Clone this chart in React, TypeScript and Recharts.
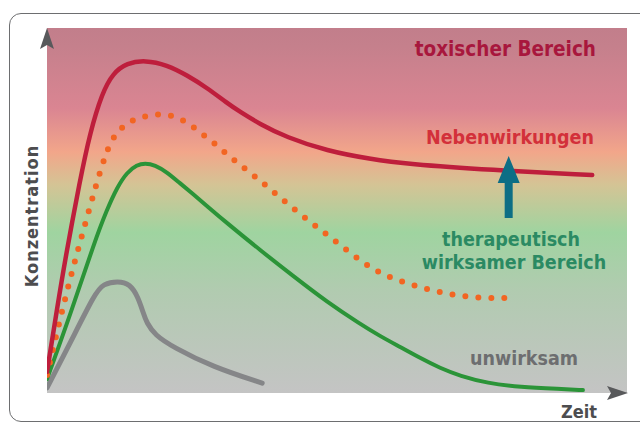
import { LineChart, Line, XAxis, YAxis, ReferenceArea, ReferenceDot } from "recharts";

// Zeit (0-100) und Konzentration (0-100)
const redT = [0, 1.7, 3.1, 5.7, 7.4, 9.5, 11.4, 13.8, 16.9, 20.7, 24.1, 27.6, 31, 33.3, 36.7, 41.2, 48.3, 55.7, 62.2, 76.4, 94];
const redC = [5.8, 22.7, 36.4, 58.4, 71.2, 82.2, 87.7, 90.4, 91.2, 89.9, 87.1, 83.6, 79.5, 77, 73.7, 70.1, 66.3, 64.1, 62.7, 61.1, 59.7];

const doseT = [0, 2.2, 4.5, 7.1, 9.7, 11.2, 12.6, 14.3, 16.4, 18.6, 20.9, 22.9, 24.8, 26.7, 28.6, 32.2, 36, 39.7, 43.4, 47.2, 51, 54.8, 58.3, 62.8, 67.4, 72.2, 76.9, 79.1];
const doseC = [4.9, 20, 34.5, 49.3, 63.8, 69.6, 72.3, 74.5, 75.6, 76.4, 76.2, 75.3, 73.4, 71, 68.8, 63.8, 59.2, 54.2, 49.3, 44.7, 40, 35.3, 32.1, 29.6, 27.7, 26.3, 26, 26];

const greenT = [0, 4, 8.3, 10.3, 12.1, 13.8, 15.5, 16.9, 18.6, 20.7, 22.9, 25.2, 27.6, 31, 36.7, 42.4, 48.3, 54, 57.4, 60.9, 64.3, 67.8, 71.2, 75.9, 81.6, 88.4, 92.4];
const greenC = [3.8, 21.4, 41.9, 50.1, 56.4, 60.5, 62.5, 63, 62.5, 60.5, 57.5, 54.5, 51.2, 46.6, 39.2, 32.1, 24.9, 18.9, 15.6, 12.6, 9.6, 6.8, 4.7, 2.7, 1.6, 1.1, 0.8];

const grayT = [0, 4, 8.3, 9.7, 12.2, 14.3, 15.7, 16.6, 17.2, 18.6, 21.7, 28.6, 37.1];
const grayC = [1.4, 13.7, 27.4, 29.9, 30.7, 29.9, 26.3, 21.9, 19.2, 15.9, 12.6, 7.1, 2.7];

const toRows = (ts: number[], cs: number[]) => ts.map((t, i) => ({ t, c: cs[i] }));

const font = "'DejaVu Sans Condensed', 'DejaVu Sans', sans-serif";
const axisGray = "#58595b";

const UpHead = (p: any) => (
  <path d={`M${p.cx},${p.cy} L${p.cx + 7},${p.cy + 21} L${p.cx},${p.cy + 17} L${p.cx - 7},${p.cy + 21} Z`} fill={axisGray} />
);
const RightHead = (p: any) => (
  <path d={`M${p.cx + 1},${p.cy} L${p.cx - 20},${p.cy - 7} L${p.cx - 16},${p.cy} L${p.cx - 20},${p.cy + 7} Z`} fill={axisGray} />
);
const TealArrow = (p: any) => (
  <path
    d={`M${p.cx},${p.cy} L${p.cx + 11},${p.cy + 27} L${p.cx + 4},${p.cy + 27} L${p.cx + 4},${p.cy + 62} L${p.cx - 4},${p.cy + 62} L${p.cx - 4},${p.cy + 27} L${p.cx - 11},${p.cy + 27} Z`}
    fill="#0d6e85"
  />
);

export default function App() {
  return (
    <div style={{ position: "absolute", left: 0, top: 0, width: 640, height: 424, overflow: "hidden", background: "#fff" }}>
      <div
        style={{
          position: "absolute",
          left: 9,
          top: 13,
          width: 660,
          height: 407,
          border: "1.5px solid #6d6e70",
          borderRadius: 12,
        }}
      />
      <div style={{ position: "absolute", left: 0, top: 0 }}>
        <LineChart width={640} height={424} margin={{ top: 28, right: 13, bottom: 31, left: 47 }}>
          <defs>
            <linearGradient id="bg" x1="0" y1="0" x2="0" y2="1">
              <stop offset="0" stopColor="#c27e8b" />
              <stop offset="0.05" stopColor="#c5808c" />
              <stop offset="0.22" stopColor="#da8592" />
              <stop offset="0.34" stopColor="#f2a68a" />
              <stop offset="0.43" stopColor="#d4c495" />
              <stop offset="0.56" stopColor="#9fd4a0" />
              <stop offset="0.72" stopColor="#b1cbb0" />
              <stop offset="1" stopColor="#c4c4c4" />
            </linearGradient>
          </defs>
          <ReferenceArea x1={0} x2={100} y1={0} y2={100} fill="url(#bg)" fillOpacity={1} stroke="none" />
          <XAxis
            type="number"
            dataKey="t"
            domain={[0, 100]}
            allowDataOverflow
            height={0}
            tick={false}
            tickLine={false}
            axisLine={{ stroke: axisGray, strokeWidth: 6 }}
          />
          <YAxis
            type="number"
            dataKey="c"
            domain={[0, 100]}
            allowDataOverflow
            width={0}
            tick={false}
            tickLine={false}
            axisLine={{ stroke: axisGray, strokeWidth: 5 }}
          />
          <Line data={toRows(grayT, grayC)} dataKey="c" type="basis" stroke="#858688" strokeWidth={5} strokeLinecap="round" dot={false} isAnimationActive={false} />
          <Line data={toRows(greenT, greenC)} dataKey="c" type="basis" stroke="#2b9438" strokeWidth={4} strokeLinecap="round" dot={false} isAnimationActive={false} />
          <Line
            data={toRows(doseT, doseC)}
            dataKey="c"
            type="basis"
            stroke="#f26522"
            strokeWidth={6}
            strokeDasharray="0 13"
            strokeLinecap="round"
            dot={false}
            isAnimationActive={false}
          />
          <Line data={toRows(redT, redC)} dataKey="c" type="basis" stroke="#be1e3c" strokeWidth={4.5} strokeLinecap="round" dot={false} isAnimationActive={false} />
          <ReferenceDot x={0} y={100} r={0} shape={UpHead} />
          <ReferenceDot x={100} y={0} r={0} shape={RightHead} />
          <ReferenceDot x={79.6} y={64.9} r={0} shape={TealArrow} />
        </LineChart>
      </div>
      <svg width={640} height={424} style={{ position: "absolute", left: 0, top: 0, pointerEvents: "none" }}>
        <g fontFamily={font} fontWeight="bold">
          <text x={596} y={56} textAnchor="end" fontSize={20.5} fill="#a8173d">
            toxischer Bereich
          </text>
          <text x={594} y={144} textAnchor="end" fontSize={19.5} fill="#d3303a">
            Nebenwirkungen
          </text>
          <text x={511} y={246} textAnchor="middle" fontSize={19.5} fill="#2b8a63">
            therapeutisch
          </text>
          <text x={514} y={269} textAnchor="middle" fontSize={19.5} fill="#2b8a63">
            wirksamer Bereich
          </text>
          <text x={524} y={365} textAnchor="middle" fontSize={19.5} fill="#6d6e70">
            unwirksam
          </text>
          <text x={597} y={418} textAnchor="end" fontSize={18} fill="#4d4d4f">
            Zeit
          </text>
          <text x={38} y={216} transform="rotate(-90 38 216)" textAnchor="middle" fontSize={18} letterSpacing={1} fill="#4d4d4f">
            Konzentration
          </text>
        </g>
      </svg>
    </div>
  );
}
